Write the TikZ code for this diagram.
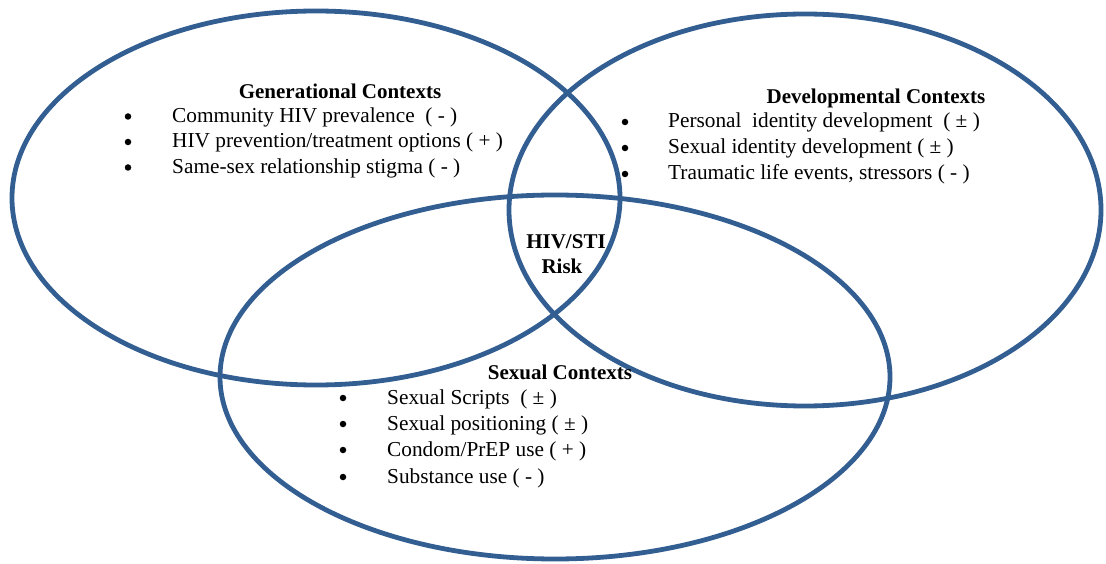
\documentclass[tikz,border=0pt]{standalone}
\usepackage{fontspec}
\setmainfont{Liberation Serif}
\usetikzlibrary{shapes.geometric}
\definecolor{ringblue}{RGB}{50,94,146}
\begin{document}
\begin{tikzpicture}[x=1pt,y=-1pt,
  ring/.style={ellipse, draw=ringblue, line width=4.8pt, inner sep=0pt},
  head/.style={font=\fontsize{21}{23}\selectfont\bfseries, anchor=base, inner sep=0pt},
  item/.style={font=\fontsize{21.3}{23}\selectfont, anchor=base west, inner sep=0pt},
  dot/.style={circle, fill=black, inner sep=0pt, minimum size=6.5pt}]
\useasboundingbox (0,0) rectangle (1106,564);

% the three overlapping contexts
\node[ring, minimum width=608pt, minimum height=374pt] (gen) at (316,198) {};
\node[ring, minimum width=592pt, minimum height=392pt] (dev) at (805,210) {};
\node[ring, minimum width=670pt, minimum height=364pt] (sex) at (555,377) {};

% generational contexts
\node[head] (genh) at (340,99) {Generational Contexts};
\foreach \t [count=\i] in {Community HIV prevalence \ ( - ),
  HIV prevention/treatment options ( + ),
  Same-sex relationship stigma ( - )} {
  \node[dot] (genb\i) at (128,91+25.5*\i) {};
  \node[item] (geni\i) at (172,97+25.5*\i) {\t};
}

% developmental contexts
\node[head] (devh) at (876,104) {Developmental Contexts};
\node[dot] (devb1) at (625,122) {};
\node[item] (devi1) at (668,128) {Personal \ identity development \ ( ± )};
\node[dot] (devb2) at (625,148) {};
\node[item] (devi2) at (668,154) {Sexual identity development ( ± )};
\node[dot] (devb3) at (625,174) {};
\node[item] (devi3) at (668,180) {Traumatic life events, stressors ( - )};

% shared centre
\node[head] (risk1) at (566,248) {HIV/STI};
\node[head] (risk2) at (562,273) {Risk};

% sexual contexts
\node[head] (sexh) at (560,379) {Sexual Contexts};
\node[dot] (sexb1) at (343,398) {};
\node[item] (sexi1) at (387,404) {Sexual Scripts \ ( ± )};
\node[dot] (sexb2) at (343,424) {};
\node[item] (sexi2) at (387,430) {Sexual positioning ( ± )};
\node[dot] (sexb3) at (343,450) {};
\node[item] (sexi3) at (387,456) {Condom/PrEP use ( + )};
\node[dot] (sexb4) at (343,477) {};
\node[item] (sexi4) at (387,483) {Substance use ( - )};
\end{tikzpicture}
\end{document}
